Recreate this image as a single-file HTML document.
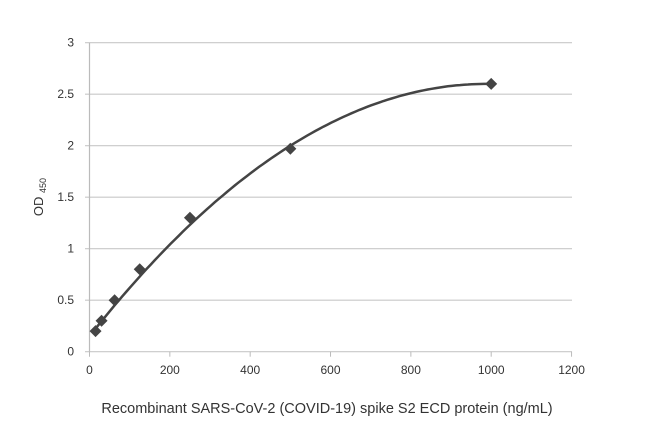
<!DOCTYPE html>
<html><head><meta charset="utf-8"><style>
body{margin:0;background:#fff;}
svg text{font-family:"Liberation Sans",sans-serif;fill:#333;}
</style></head><body>
<svg id="s" width="650" height="427" xmlns="http://www.w3.org/2000/svg"></svg>
<script>
const s=document.getElementById('s');
const X=v=>89.5+v*0.4017, Y=v=>351.7-103*v;
let h='';
for(let i=0;i<=6;i++){const y=Y(i*0.5);
 h+=`<line x1="85" x2="572" y1="${y}" y2="${y}" stroke="#c8c8c8" stroke-width="1.2"/>`;
 h+=`<text x="74" y="${y+4}" font-size="12" text-anchor="end">${i*0.5}</text>`;}
h+=`<line x1="${X(0)}" x2="${X(0)}" y1="${Y(3)}" y2="${Y(0)}" stroke="#bbb" stroke-width="1.2"/>`;
for(let i=0;i<=6;i++){const x=X(i*200);
 h+=`<line x1="${x}" x2="${x}" y1="${Y(0)}" y2="${Y(0)+5}" stroke="#bbb"/>`;
 h+=`<text x="${x}" y="374" font-size="12" text-anchor="middle">${i*200}</text>`;}
let p=[];for(let x=12;x<=1000;x+=10){const y=0.15+0.00495*x-2.5e-6*x*x;p.push(X(x).toFixed(1)+','+Y(y).toFixed(1));}
h+=`<polyline points="${p.join(' ')}" fill="none" stroke="#444" stroke-width="2.5"/>`;
[[15,0.2],[30,0.3],[62.5,0.5],[125,0.8],[250,1.3],[500,1.97],[1000,2.6]].forEach(([a,b])=>{const x=X(a),y=Y(b);
 h+=`<polygon points="${x},${y-6} ${x+6},${y} ${x},${y+6} ${x-6},${y}" fill="#444"/>`;});
h+=`<g transform="translate(43,197) rotate(-90)"><text x="0" y="0" font-size="13" text-anchor="middle">OD <tspan font-size="9" dy="3">450</tspan></text></g>`;
h+=`<text x="327" y="413" font-size="14.5" text-anchor="middle">Recombinant SARS-CoV-2 (COVID-19) spike S2 ECD protein (ng/mL)</text>`;
s.innerHTML=h;
</script>
</body></html>
